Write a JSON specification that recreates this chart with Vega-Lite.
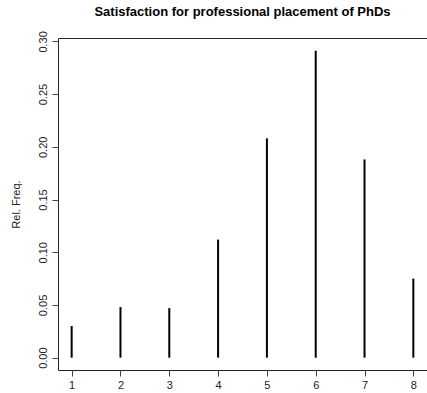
{
  "$schema": "https://vega.github.io/schema/vega-lite/v6.json",
  "autosize": {"type": "none"},
  "padding": {"left": 58, "top": 38, "right": 0, "bottom": 23},
  "width": 369,
  "height": 332,
  "background": "white",
  "title": {
    "text": "Satisfaction for professional placement of PhDs",
    "font": "Liberation Sans",
    "fontSize": 13,
    "fontWeight": "bold",
    "color": "black",
    "anchor": "middle",
    "offset": 12
  },
  "config": {
    "view": {"stroke": "#222222", "strokeWidth": 1},
    "axis": {
      "labelFont": "Liberation Sans",
      "titleFont": "Liberation Sans",
      "labelFontSize": 11,
      "titleFontSize": 11,
      "titleFontWeight": "normal",
      "labelColor": "#222222",
      "titleColor": "#222222",
      "tickColor": "#444444",
      "grid": false,
      "domain": false,
      "tickSize": 6
    }
  },
  "data": {
    "values": [
      {"score": 1, "freq": 0.030},
      {"score": 2, "freq": 0.048},
      {"score": 3, "freq": 0.047},
      {"score": 4, "freq": 0.112},
      {"score": 5, "freq": 0.208},
      {"score": 6, "freq": 0.291},
      {"score": 7, "freq": 0.188},
      {"score": 8, "freq": 0.075}
    ]
  },
  "mark": {"type": "rule", "color": "black", "strokeWidth": 2},
  "encoding": {
    "x": {
      "field": "score",
      "type": "quantitative",
      "scale": {"domain": [0.72, 8.28], "nice": false, "zero": false},
      "axis": {"values": [1, 2, 3, 4, 5, 6, 7, 8], "title": null, "labelPadding": 3, "format": "d"}
    },
    "y": {
      "field": "freq",
      "type": "quantitative",
      "scale": {"domain": [-0.0117, 0.3032], "nice": false, "zero": false},
      "axis": {
        "values": [0, 0.05, 0.1, 0.15, 0.2, 0.25, 0.3],
        "format": ".2f",
        "title": "Rel. Freq.",
        "labelAngle": 270,
        "labelPadding": 4,
        "titlePadding": 16
      }
    },
    "y2": {"datum": 0}
  }
}
